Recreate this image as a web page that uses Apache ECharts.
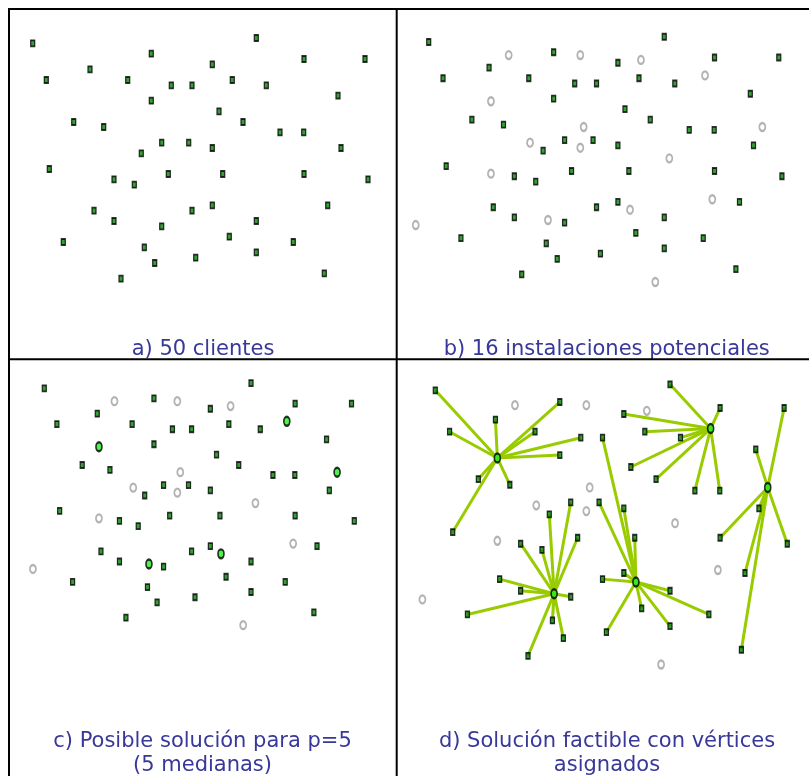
<!DOCTYPE html>
<html><head><meta charset="utf-8">
<script src="https://cdn.jsdelivr.net/npm/echarts@6/dist/echarts.min.js"></script>
<style>html,body{margin:0;padding:0;background:#fff}#c{width:809px;height:776px}</style>
</head><body><div id="c"></div>
<script>
// 49 clients (base coordinates, as in panel a)
const clientX = [32.7,256.3,151.3,304,365,90,212.3,46.3,127.7,171.3,
  192,232.3,266.3,338,151.3,219,73.7,103.7,243,280,
  303.7,161.7,188.7,212.3,341,141.3,49.3,114,134.3,168.3,
  222.7,304,368,94,192,212.3,327.7,114,161.7,256.3,
  229.3,63.3,293.3,144.3,256.3,195.7,154.7,324.3,121];
const clientY = [43.3,38,53.7,59,59,69.3,64.3,80,80,85.3,
  85.3,80,85.3,95.7,100.7,111.3,122,127,122,132.3,
  132.3,142.7,142.7,148,148,153.3,169,179.3,184.7,174,
  174,174,179.3,210.7,210.7,205.3,205.3,221,226.3,221,
  236.7,242,242,247.3,252.3,257.7,263,273.3,278.7];
// 16 potential facilities
const facilityX = [108.6,176.6,234.2,295,91.8,179.8,349.4,128.9,176.6,261.1,91.8,301.9,223.8,145.9,20.4,247.8];
const facilityY = [56.5,56.5,61.5,77.2,103.3,129.4,129.4,145.3,150.4,161.1,176.7,202.6,213.2,223.6,228.7,286.4];
// 5 chosen medians (indices into facilities)
const medianIdx = [4,3,6,13,12];
// client -> median (index into medianIdx)
const assignment = [0,1,0,1,2,0,1,0,0,0, 4,1,1,2,0,1,0,0,1,1,
  1,3,4,4,2,3,0,3,3,3, 4,2,2,3,4,4,2,3,3,4, 4,3,4,3,4,4,3,2,3];
const titlesLine1 = ['a) 50 clientes','b) 16 instalaciones potenciales','c) Posible solución para p=5','d) Solución factible con vértices'];
const titlesLine2 = ['','','(5 medianas)','asignados'];

const XMIN=0, XMAX=400, YMIN=20, YMAX=300, RX=32.7, RY=43.3;
const panels = [
  {px:32.7, py:43.3, kx:1, ky:1},
  {px:428.7, py:42, kx:1.0535, ky:0.9872},
  {px:44.3, py:388.3, kx:0.9245, ky:0.9745},
  {px:435.3, py:390.3, kx:1.0497, ky:1.128}
];
const grids = panels.map(p => ({
  left: p.px - (RX - XMIN) * p.kx,
  top: p.py - (RY - YMIN) * p.ky,
  width: (XMAX - XMIN) * p.kx,
  height: (YMAX - YMIN) * p.ky,
  outerBoundsMode: 'none',
  containLabel: false,
  show: false
}));
const xAxes = panels.map((p,i) => ({type:'value', gridIndex:i, min:XMIN, max:XMAX, show:false}));
const yAxes = panels.map((p,i) => ({type:'value', gridIndex:i, min:YMIN, max:YMAX, inverse:true, show:false}));

const clients = clientX.map((x,i) => [x, clientY[i]]);
const facilities = facilityX.map((x,i) => [x, facilityY[i]]);
const medians = medianIdx.map(k => facilities[k]);
const others = facilities.filter((f,k) => medianIdx.indexOf(k) < 0);

const clientStyle = {symbol:'rect', symbolSize:[4,6], itemStyle:{color:'#008a00', borderColor:'#000', borderWidth:1.5}};
const facStyle = {symbol:'circle', symbolSize:[6,8], itemStyle:{color:'#fff', borderColor:'#a0a0a0', borderWidth:2}};
const medStyle = {symbol:'circle', symbolSize:[6,9], itemStyle:{color:'#22ee22', borderColor:'#000', borderWidth:2}};

function sc(i, data, st, z) {
  return Object.assign({type:'scatter', xAxisIndex:i, yAxisIndex:i, data:data, z:z, silent:true, animation:false}, st);
}
const series = [
  sc(0, clients, clientStyle, 3),
  sc(1, facilities, facStyle, 2),
  sc(1, clients, clientStyle, 3),
  sc(2, others, facStyle, 2),
  sc(2, clients, clientStyle, 3),
  sc(2, medians, medStyle, 4),
  {type:'lines', coordinateSystem:'cartesian2d', xAxisIndex:3, yAxisIndex:3, z:1, silent:true, animation:false,
   lineStyle:{color:'#99cc00', width:3, opacity:1},
   data: clients.map((c,i) => ({coords:[c, medians[assignment[i]]]}))},
  sc(3, others, facStyle, 2),
  sc(3, clients, clientStyle, 3),
  sc(3, medians, medStyle, 4)
];

const font = '21px "DejaVu Sans", Verdana, sans-serif';
const textCol = '#38389a';
function txt(x, y, s) {
  return {type:'text', x:x, y:y, silent:true, z:10,
    style:{text:s, font:font, fill:textCol, textAlign:'center', textVerticalAlign:'middle', align:'center', verticalAlign:'middle'}};
}
function ln(x1,y1,x2,y2) {
  return {type:'line', silent:true, z:20, shape:{x1:x1,y1:y1,x2:x2,y2:y2}, style:{stroke:'#000', lineWidth:2}};
}
const graphic = [
  ln(8,9,809,9), ln(9,8,9,776), ln(396.7,8,396.7,776), ln(8,359.3,809,359.3),
  txt(203,349.8,titlesLine1[0]), txt(606.7,349.8,titlesLine1[1]),
  txt(202.5,741.8,titlesLine1[2]), txt(202.5,765.8,titlesLine2[2]),
  txt(607,741.8,titlesLine1[3]), txt(607,765.8,titlesLine2[3])
];

const chart = echarts.init(document.getElementById('c'), null, {renderer:'canvas'});
chart.setOption({animation:false, grid:grids, xAxis:xAxes, yAxis:yAxes, series:series, graphic:graphic});
</script></body></html>
